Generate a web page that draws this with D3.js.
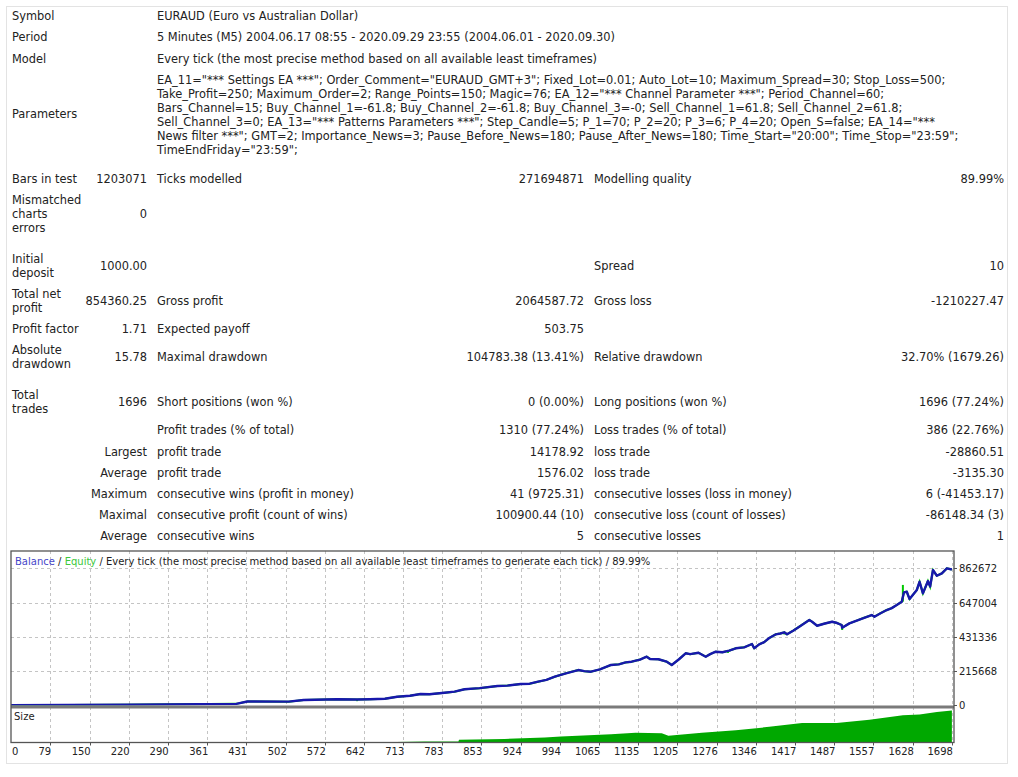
<!DOCTYPE html>
<html>
<head>
<meta charset="utf-8">
<script src="https://cdn.jsdelivr.net/npm/d3@7"></script>
<style>
body { margin: 0; background: #fff; }
svg text { font-family: "DejaVu Sans", Verdana, sans-serif; fill: #222; }
</style>
</head>
<body>
<svg width="1018" height="777"></svg>
<script>
// report header
const headerRows = [
	["Symbol", "EURAUD (Euro vs Australian Dollar)"],
	["Period", "5 Minutes (M5) 2004.06.17 08:55 - 2020.09.29 23:55 (2004.06.01 - 2020.09.30)"],
	["Model", "Every tick (the most precise method based on all available least timeframes)"]
];

const parameterLines = [
	'EA_11="*** Settings EA ***"; Order_Comment="EURAUD_GMT+3"; Fixed_Lot=0.01; Auto_Lot=10; Maximum_Spread=30; Stop_Loss=500;',
	'Take_Profit=250; Maximum_Order=2; Range_Points=150; Magic=76; EA_12="*** Channel Parameter ***"; Period_Channel=60;',
	'Bars_Channel=15; Buy_Channel_1=-61.8; Buy_Channel_2=-61.8; Buy_Channel_3=-0; Sell_Channel_1=61.8; Sell_Channel_2=61.8;',
	'Sell_Channel_3=0; EA_13="*** Patterns Parameters ***"; Step_Candle=5; P_1=70; P_2=20; P_3=6; P_4=20; Open_S=false; EA_14="***',
	'News filter ***"; GMT=2; Importance_News=3; Pause_Before_News=180; Pause_After_News=180; Time_Start="20:00"; Time_Stop="23:59";',
	'TimeEndFriday="23:59";'
];

// label lines, value, label, value, label, value
const statRows = [
	[["Bars in test"], "1203071", "Ticks modelled", "271694871", "Modelling quality", "89.99%"],
	[["Mismatched", "charts", "errors"], "0", "", "", "", ""],
	[["Initial", "deposit"], "1000.00", "", "", "Spread", "10"],
	[["Total net", "profit"], "854360.25", "Gross profit", "2064587.72", "Gross loss", "-1210227.47"],
	[["Profit factor"], "1.71", "Expected payoff", "503.75", "", ""],
	[["Absolute", "drawdown"], "15.78", "Maximal drawdown", "104783.38 (13.41%)", "Relative drawdown", "32.70% (1679.26)"],
	[["Total", "trades"], "1696", "Short positions (won %)", "0 (0.00%)", "Long positions (won %)", "1696 (77.24%)"],
	[[], "", "Profit trades (% of total)", "1310 (77.24%)", "Loss trades (% of total)", "386 (22.76%)"],
	[[], "Largest", "profit trade", "14178.92", "loss trade", "-28860.51"],
	[[], "Average", "profit trade", "1576.02", "loss trade", "-3135.30"],
	[[], "Maximum", "consecutive wins (profit in money)", "41 (9725.31)", "consecutive losses (loss in money)", "6 (-41453.17)"],
	[[], "Maximal", "consecutive profit (count of wins)", "100900.44 (10)", "consecutive loss (count of losses)", "-86148.34 (3)"],
	[[], "Average", "consecutive wins", "5", "consecutive losses", "1"]
];

// chart
const chartTitle = ["Balance", "Equity", "Every tick (the most precise method based on all available least timeframes to generate each tick)", "89.99%"];
const xTickLabels = [0, 79, 150, 220, 290, 361, 431, 502, 572, 642, 713, 783, 853, 924, 994, 1065, 1135, 1205, 1276, 1346, 1417, 1487, 1557, 1628, 1698];
const yTickLabels = [0, 215668, 431336, 647004, 862672];

// [trade, balance]
const balance = [
	[0, 1000], [215, 3000], [413, 9000], [433, 24000], [507, 23000], [534, 33000], [594, 38000],
	[630, 36500], [653, 38000], [680, 41000], [702, 54000], [725, 60000], [744, 71000], [760, 70000],
	[787, 79000], [805, 86000], [823, 101000], [850, 108000], [882, 121500], [900, 124000],
	[924, 134000], [940, 136000], [955, 148600], [970, 160000], [985, 180000], [1005, 201500],
	[1027, 222000], [1038, 215000], [1050, 211500], [1066, 226000], [1086, 254000], [1100, 258000],
	[1112, 270000], [1123, 274500], [1138, 288000], [1150, 306000], [1156, 292000], [1171, 290000],
	[1186, 274500], [1195, 254000], [1208, 290000], [1220, 327500], [1228, 322000], [1243, 331000],
	[1256, 306000], [1264, 322000], [1274, 337500], [1286, 334000], [1298, 344000], [1310, 359000],
	[1325, 365000], [1339, 386000], [1343, 359000], [1352, 384000], [1361, 398000], [1370, 423500],
	[1382, 447000], [1390, 452000], [1397, 459500], [1402, 447000], [1413, 470000], [1424, 495000],
	[1442, 537000], [1447, 526000], [1456, 501000], [1470, 515000], [1483, 526000], [1492, 518000],
	[1500, 505500], [1501, 488500], [1514, 516000], [1526, 532000], [1538, 548000], [1554, 568500],
	[1559, 558000], [1570, 580000], [1581, 600000], [1590, 612000], [1599, 631500], [1608, 652500],
	[1612, 711500], [1617, 715000], [1622, 669000], [1635, 726000], [1640, 778000], [1646, 705000],
	[1655, 782500], [1659, 747000], [1664, 852000], [1671, 816000], [1680, 831000], [1689, 862672],
	[1698, 855360]
];

// [trade, from, to] equity excursions
const equitySpikes = [
	[630, 36500, 26000], [1296, 344000, 330000], [1397, 459500, 446000], [1501, 488500, 474000],
	[1610, 652500, 758000], [1655, 782500, 762000]
];

// [trade, lots]
const lotSize = [
	[0, 0.1], [300, 0.3], [500, 1], [700, 1.5], [751, 3], [812, 3], [813, 8], [895, 10.6],
	[967, 15], [996, 18], [1086, 24], [1130, 29], [1177, 27], [1189, 20], [1249, 29], [1310, 36],
	[1370, 46], [1429, 57], [1491, 57], [1550, 67], [1610, 80], [1640, 82], [1671, 90], [1698, 94]
];

const svg = d3.select("svg");

// card
svg.append("rect")
	.attr("x", 6.5).attr("y", 6.5)
	.attr("width", 1001).attr("height", 757)
	.attr("fill", "#fff")
	.attr("stroke", "#e3e3e3");

const report = svg.append("g").style("font-size", "11.4px");
const lineStep = 14, rowH = 21.2;

// header rows
let cy = 5.5;
headerRows.forEach(function (r) {
	const mid = cy + rowH / 2;
	report.append("text").attr("x", 12).attr("y", mid + 4).text(r[0]);
	report.append("text").attr("x", 157).attr("y", mid + 4).text(r[1]);
	cy += rowH;
});

// parameters block
const pH = rowH + (parameterLines.length - 1) * lineStep;
report.append("text").attr("x", 12).attr("y", cy + pH / 2 + 3).text("Parameters");
report.selectAll(".param")
	.data(parameterLines)
	.join("text")
	.attr("x", 157)
	.attr("y", (d, i) => cy + rowH / 2 + i * lineStep + 4)
	.text(d => d);
cy += pH + 8;

// statistics rows
const cols = [
	{ x: 147, anchor: "end" },
	{ x: 157, anchor: "start" },
	{ x: 584, anchor: "end" },
	{ x: 594, anchor: "start" },
	{ x: 1004, anchor: "end" }
];
const spacerAfter = [1, 5];
statRows.forEach(function (r, ri) {
	const n = Math.max(1, r[0].length);
	const h = rowH + (n - 1) * lineStep;
	const mid = cy + h / 2;
	r[0].forEach(function (t, li) {
		report.append("text")
			.attr("x", 12)
			.attr("y", mid - (n - 1) * lineStep / 2 + li * lineStep + 4)
			.text(t);
	});
	r.slice(1).forEach(function (t, ci) {
		if (!t) return;
		report.append("text")
			.attr("x", cols[ci].x)
			.attr("y", mid + 4)
			.attr("text-anchor", cols[ci].anchor)
			.text(t);
	});
	cy += h;
	if (spacerAfter.includes(ri)) cy += 9.5;
});

// ---- chart ----
const pLeft = 11, pRight = 954, pTop = 551, mainBottom = 705.5, sizeTop = 708.5, pBottom = 742.5;

const x = d3.scaleLinear().domain([0, 1700]).range([6.2, 953]);
const y = d3.scaleLinear().domain([0, 862672]).range([705.3, 568.3]);
const ys = d3.scaleLinear().domain([0, 100]).range([pBottom, sizeTop]);

const chart = svg.append("g").style("font-size", "10px");

chart.append("rect")
	.attr("x", pLeft).attr("y", pTop)
	.attr("width", pRight - pLeft).attr("height", pBottom - pTop)
	.attr("fill", "#fff");

const defs = svg.append("defs");
defs.append("clipPath").attr("id", "plot")
	.append("rect").attr("x", pLeft).attr("y", pTop).attr("width", pRight - pLeft).attr("height", mainBottom - pTop);
defs.append("clipPath").attr("id", "sizeclip")
	.append("rect").attr("x", pLeft).attr("y", sizeTop).attr("width", pRight - pLeft).attr("height", pBottom - sizeTop);

// grid
chart.selectAll(".vgrid")
	.data(xTickLabels.slice(1))
	.join("line")
	.attr("x1", d => Math.round(x(d)) + 0.5).attr("x2", d => Math.round(x(d)) + 0.5)
	.attr("y1", pTop).attr("y2", pBottom)
	.attr("stroke", "#c4c4c4")
	.attr("stroke-dasharray", "3,3");

chart.selectAll(".hgrid")
	.data(yTickLabels.slice(1))
	.join("line")
	.attr("x1", pLeft).attr("x2", pRight)
	.attr("y1", d => Math.round(y(d)) + 0.5).attr("y2", d => Math.round(y(d)) + 0.5)
	.attr("stroke", "#c4c4c4")
	.attr("stroke-dasharray", "3,3");

// size pane
const area = d3.area()
	.x(d => x(d[0]))
	.y0(pBottom)
	.y1(d => ys(d[1]));
chart.append("path")
	.datum(lotSize)
	.attr("d", area)
	.attr("clip-path", "url(#sizeclip)")
	.attr("fill", "#00a800");

chart.append("text").attr("x", 14).attr("y", 720).text("Size");

// equity + balance
const line = d3.line().x(d => x(d[0])).y(d => y(d[1]));
chart.append("path")
	.datum(balance)
	.attr("d", line)
	.attr("clip-path", "url(#plot)")
	.attr("fill", "none")
	.attr("stroke", "#00c800")
	.attr("stroke-width", 2);

chart.selectAll(".spike")
	.data(equitySpikes)
	.join("line")
	.attr("x1", d => x(d[0])).attr("x2", d => x(d[0]))
	.attr("y1", d => y(d[1])).attr("y2", d => y(d[2]))
	.attr("stroke", "#00c800")
	.attr("stroke-width", 2);

chart.append("path")
	.datum(balance)
	.attr("d", line)
	.attr("clip-path", "url(#plot)")
	.attr("fill", "none")
	.attr("stroke", "#1818ac")
	.attr("stroke-width", 2.4)
	.attr("stroke-linejoin", "round");

// separator & frame
chart.append("line")
	.attr("x1", pLeft).attr("x2", pRight)
	.attr("y1", 707).attr("y2", 707)
	.attr("stroke", "#7a7a7a")
	.attr("stroke-width", 3);

chart.append("rect")
	.attr("x", pLeft).attr("y", pTop)
	.attr("width", pRight - pLeft).attr("height", pBottom - pTop)
	.attr("fill", "none")
	.attr("stroke", "#555")
	.attr("stroke-width", 1.3);

// title
const title = chart.append("text").attr("x", 15).attr("y", 565);
title.append("tspan").style("fill", "#4646c8").text(chartTitle[0]);
title.append("tspan").text(" / ");
title.append("tspan").style("fill", "#3cc83c").text(chartTitle[1]);
title.append("tspan").text(" / " + chartTitle[2] + " / " + chartTitle[3]);

// x axis
chart.selectAll(".xtick")
	.data(xTickLabels.slice(1))
	.join("line")
	.attr("x1", d => Math.round(x(d)) + 0.5).attr("x2", d => Math.round(x(d)) + 0.5)
	.attr("y1", pBottom).attr("y2", pBottom + 3)
	.attr("stroke", "#555");

chart.selectAll(".xlab")
	.data(xTickLabels)
	.join("text")
	.attr("x", (d, i) => i === 0 ? pLeft + 1 : x(d) + 1)
	.attr("y", 755)
	.attr("text-anchor", (d, i) => i === 0 ? "start" : "end")
	.text(d => d);

// y axis
chart.selectAll(".ytick")
	.data(yTickLabels)
	.join("line")
	.attr("x1", pRight).attr("x2", pRight + 3)
	.attr("y1", d => Math.round(y(d)) + 0.5).attr("y2", d => Math.round(y(d)) + 0.5)
	.attr("stroke", "#555");

chart.selectAll(".ylab")
	.data(yTickLabels)
	.join("text")
	.attr("x", 959)
	.attr("y", d => y(d) + 4)
	.text(d => d);
</script>
</body>
</html>
